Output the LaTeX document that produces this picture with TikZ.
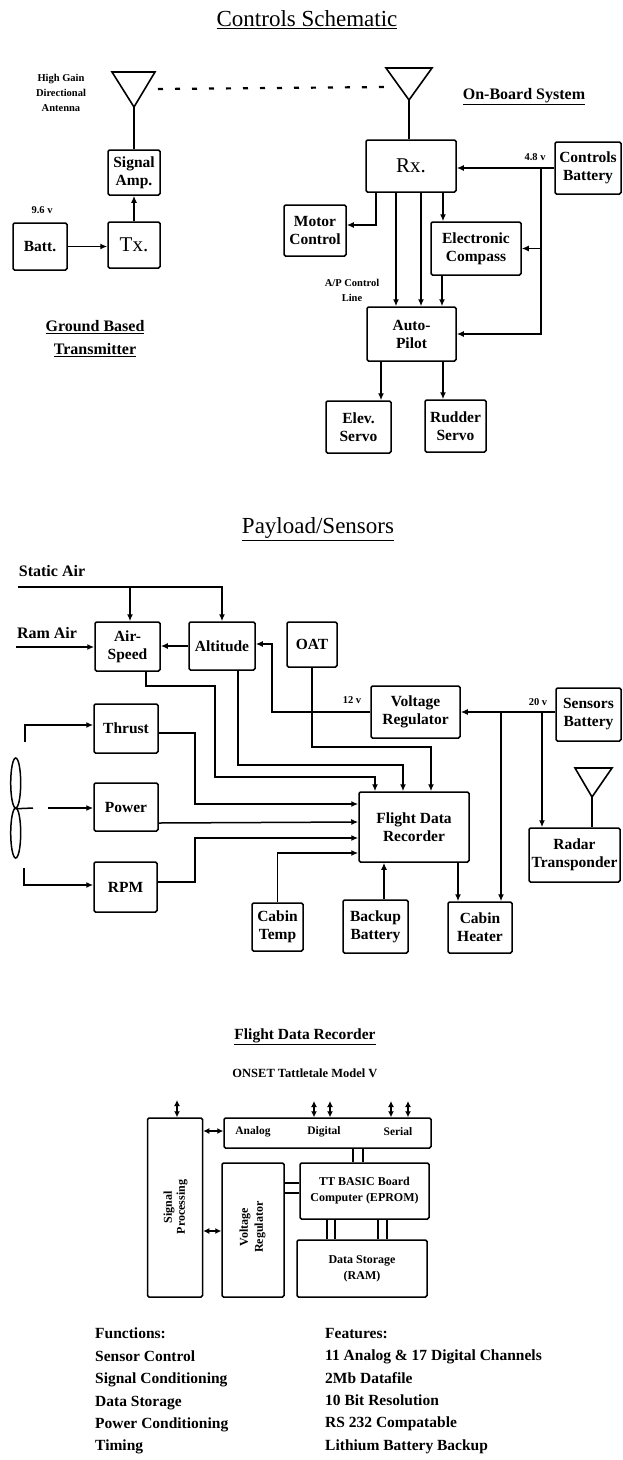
\documentclass[tikz,border=0pt]{standalone}
\usepackage{fontspec}
\setmainfont{Liberation Serif}
\usetikzlibrary{arrows.meta, positioning, shapes.geometric}
\tikzset{
  blockbox/.style={draw, line width=1.5pt, rounded corners=1.5pt, align=center, inner sep=0pt,
                   font=\fontsize{15.5}{18}\selectfont\bfseries},
  smallbox/.style={blockbox, font=\fontsize{12}{16}\selectfont\bfseries},
  wire/.style={line width=1.5pt},
  feed/.style={wire, -{Latex[length=7pt,width=6pt]}},
  both/.style={wire, {Latex[length=6pt,width=6pt]}-{Latex[length=6pt,width=6pt]}},
  antenna/.style={line width=1.6pt, line join=miter},
  heading/.style={font=\fontsize{23}{26}\selectfont},
  subhead/.style={font=\fontsize{16}{23}\selectfont\bfseries, align=center},
  tinylabel/.style={font=\fontsize{10.5}{15}\selectfont\bfseries, align=center},
  listtext/.style={font=\fontsize{15.5}{22.4}\selectfont\bfseries, align=left, anchor=north west, inner sep=0pt}
}

\begin{document}
\begin{tikzpicture}[x=1pt, y=-1pt]
  \useasboundingbox (0,0) rectangle (622,1460);

  % controls schematic
  \node[heading] (ctrltitle) at (307,19.5) {\underline{Controls Schematic}};
  \node[tinylabel] (gainlabel) at (61,93) {High Gain\\Directional\\Antenna};
  \node[tinylabel] (voltsix) at (42,210) {9.6 v};
  \node[subhead] (groundlabel) at (95,339) {\underline{Ground Based}\\\underline{Transmitter}};
  \node[subhead] (boardlabel) at (524,97) {\underline{On-Board System}};
  \node[tinylabel] (voltfour) at (535,157) {4.8 v};
  \node[tinylabel] (aplabel) at (352,290) {A/P Control\\Line};

  \node[blockbox, minimum width=52pt, minimum height=45pt] (sigamp) at (134,172.5) {Signal\\Amp.};
  \node[blockbox, minimum width=52pt, minimum height=46pt, font=\fontsize{21}{22}\selectfont] (txbox) at (134,245) {Tx.};
  \node[blockbox, minimum width=54pt, minimum height=47pt] (battbox) at (40,246.5) {Batt.};
  \node[blockbox, minimum width=90pt, minimum height=52pt, font=\fontsize{21}{22}\selectfont] (rxbox) at (411,166) {Rx.};
  \node[blockbox, minimum width=66pt, minimum height=52pt] (ctrlbatt) at (588,168) {Controls\\Battery};
  \node[blockbox, minimum width=62pt, minimum height=51pt] (motor) at (315,230.5) {Motor\\Control};
  \node[blockbox, minimum width=90pt, minimum height=53pt] (compass) at (476,248.5) {Electronic\\Compass};
  \node[blockbox, minimum width=89pt, minimum height=54pt] (autopilot) at (411.5,334) {Auto-\\Pilot};
  \node[blockbox, minimum width=65pt, minimum height=52pt] (elev) at (358.5,427) {Elev.\\Servo};
  \node[blockbox, minimum width=61pt, minimum height=52pt] (rudder) at (455.5,426) {Rudder\\Servo};

  \draw[antenna] (112,72) -- (155,72) -- (134,107) -- cycle;
  \draw[antenna] (386,68) -- (432,68) -- (409,100) -- cycle;
  \coordinate (gndtip) at (134,107);
  \coordinate (boardtip) at (409,100);
  \coordinate (gndlink) at (158,89);
  \coordinate (boardlink) at (386,87);
  \coordinate (ctrltap) at (541,168);

  \draw[line width=2.2pt, dash pattern=on 5pt off 12pt] (gndlink) -- (boardlink);
  \draw[wire] (gndtip) -- (sigamp.north);
  \draw[wire] (boardtip) -- (rxbox.north -| boardtip);
  \draw[feed] (txbox.north) -- (sigamp.south);
  \draw[feed] (battbox.east) -- (txbox.west |- battbox.east);
  \draw[feed] (ctrlbatt.west) -- (rxbox.east |- ctrlbatt.west);
  \draw[feed] (ctrltap) |- (compass.east);
  \draw[feed] (ctrltap) |- (autopilot.east);
  \draw[feed] ([xshift=-35pt]rxbox.south) |- ([yshift=5.5pt]motor.east);
  \draw[feed] ([xshift=-15pt]rxbox.south) -- ([xshift=-15pt]rxbox.south |- autopilot.north);
  \draw[feed] ([xshift=10pt]rxbox.south) -- ([xshift=10pt]rxbox.south |- autopilot.north);
  \draw[feed] ([xshift=32pt]rxbox.south) -- ([xshift=32pt]rxbox.south |- compass.north);
  \draw[feed] ([xshift=-34pt]compass.south) -- ([xshift=-34pt]compass.south |- autopilot.north);
  \draw[feed] ([xshift=-30.5pt]autopilot.south) -- ([xshift=-30.5pt]autopilot.south |- elev.north);
  \draw[feed] ([xshift=31.5pt]autopilot.south) -- ([xshift=31.5pt]autopilot.south |- rudder.north);

  % payload and sensors
  \node[heading] (paytitle) at (318,529) {\underline{Payload/Sensors}};
  \node[subhead] (staticlabel) at (52,571) {Static Air};
  \node[subhead] (ramlabel) at (47,633) {Ram Air};
  \node[tinylabel] (volttwelve) at (352,700) {12 v};
  \node[tinylabel] (volttwenty) at (538,702) {20 v};

  \node[blockbox, minimum width=65pt, minimum height=49pt] (airspeed) at (127.5,646.5) {Air-\\Speed};
  \node[blockbox, minimum width=66pt, minimum height=48pt] (altitude) at (222,646) {Altitude};
  \node[blockbox, minimum width=50pt, minimum height=45pt] (oat) at (312,644.5) {OAT};
  \node[blockbox, minimum width=89pt, minimum height=52pt] (vreg) at (415.5,712) {Voltage\\Regulator};
  \node[blockbox, minimum width=65pt, minimum height=53pt] (sensbatt) at (588.5,714.5) {Sensors\\Battery};
  \node[blockbox, minimum width=91pt, minimum height=54pt] (radar) at (574.5,855) {Radar\\Transponder};
  \node[blockbox, minimum width=64pt, minimum height=49pt] (thrust) at (126,728.5) {Thrust};
  \node[blockbox, minimum width=64pt, minimum height=48pt] (power) at (126,807) {Power};
  \node[blockbox, minimum width=63pt, minimum height=50pt] (rpm) at (125.5,887) {RPM};
  \node[blockbox, minimum width=110pt, minimum height=70pt] (fdr) at (414,827) {Flight Data\\Recorder};
  \node[blockbox, minimum width=51pt, minimum height=48pt] (cabtemp) at (277.5,927) {Cabin\\Temp};
  \node[blockbox, minimum width=65pt, minimum height=53pt] (backup) at (375.5,926.5) {Backup\\Battery};
  \node[blockbox, minimum width=64pt, minimum height=51pt] (heater) at (480,927.5) {Cabin\\Heater};
  \node[draw, ellipse, line width=1.5pt, inner sep=0pt, minimum width=10pt, minimum height=50pt] (bladeup) at (15.7,783) {};
  \node[draw, ellipse, line width=1.5pt, inner sep=0pt, minimum width=10pt, minimum height=50pt] (bladedown) at (15.7,833) {};

  \draw[antenna] (575,768) -- (612,768) -- (592,797) -- cycle;
  \coordinate (radartip) at (592,797);
  \coordinate (staticin) at (18,587);
  \coordinate (ramin) at (16,647);
  \coordinate (hubend) at (33,808);
  \coordinate (hubfeed) at (48,808);
  \coordinate (thrustin) at (25,742);
  \coordinate (rpmin) at (24,868);
  \coordinate (senstapa) at (542,712);
  \coordinate (senstapb) at (501,712);

  \draw[wire] (radartip) -- (radar.north -| radartip);
  \draw[feed] (staticin) -- (222,587) -- (altitude.north);
  \draw[feed] (130,587) -- (airspeed.north -| 130,587);
  \draw[feed] (ramin) -- (airspeed.west |- ramin);
  \draw[feed] (altitude.west) -- (airspeed.east |- altitude.west);
  \draw[feed] (vreg.west) -- (272,712) -- (272,644) -- (altitude.east |- 272,644);
  \draw[feed] (sensbatt.west |- senstapa) -- (vreg.east);
  \draw[feed] (senstapa) -- (radar.north -| senstapa);
  \draw[feed] (senstapb) -- (heater.north -| senstapb);
  \draw[feed] ([xshift=18.5pt]airspeed.south) -- (146,686) -- (215,686) -- (215,777) -- (375,777) -- (fdr.north -| 375,777);
  \draw[feed] ([xshift=16pt]altitude.south) -- (238,765) -- (403,765) -- (fdr.north -| 403,765);
  \draw[feed] (oat.south) -- (312,747) -- (431,747) -- (fdr.north -| 431,747);
  \draw[feed] ([yshift=-4.5pt]thrust.east) -- (195,733) -- (195,804) -- ([yshift=23pt]fdr.west);
  \draw[feed] ([yshift=-16pt]power.east) -- ([yshift=5pt]fdr.west);
  \draw[feed] ([yshift=5pt]rpm.east) -- (195,882) -- (195,838) -- ([yshift=-11pt]fdr.west);
  \draw[feed] (cabtemp.north) -- (277.5,853) -- ([yshift=-26pt]fdr.west);
  \draw[feed] ([xshift=8.5pt]backup.north) -- ([xshift=8.5pt]backup.north |- fdr.south);
  \draw[feed] ([xshift=44pt]fdr.south) -- ([xshift=44pt]fdr.south |- heater.north);
  \draw[wire] (bladeup.south) -- (hubend);
  \draw[feed] (hubfeed) -- (hubfeed -| power.west);
  \draw[feed] (thrustin) |- ([yshift=3.5pt]thrust.west);
  \draw[feed] (rpmin) |- ([yshift=2pt]rpm.west);

  % recorder detail
  \node[subhead, font=\fontsize{15.5}{18}\selectfont\bfseries] (fdrtitle) at (305,1037) {\underline{Flight Data Recorder}};
  \node[tinylabel, font=\fontsize{12.5}{15}\selectfont\bfseries] (onset) at (305,1073) {ONSET Tattletale Model V};

  \node[smallbox, minimum width=55pt, minimum height=179pt] (sigproc) at (175,1207.5) {};
  \node[smallbox, minimum width=207pt, minimum height=30pt] (iobar) at (327.5,1133) {};
  \node[smallbox, minimum width=62pt, minimum height=134pt] (voltreg) at (253,1230) {};
  \node[smallbox, minimum width=129pt, minimum height=56pt] (basic) at (364.5,1191) {TT BASIC Board\\Computer (EPROM)};
  \node[smallbox, minimum width=130pt, minimum height=57pt] (storage) at (362,1268.5) {Data Storage\\(RAM)};
  \node[tinylabel, font=\fontsize{12}{13}\selectfont\bfseries, rotate=90] (sigtext) at (175.5,1207) {Signal\\Processing};
  \node[tinylabel, font=\fontsize{12}{15}\selectfont\bfseries, rotate=90] (volttext) at (252.5,1227) {Voltage\\Regulator};
  \node[tinylabel, font=\fontsize{11.5}{13}\selectfont\bfseries] (analog) at (253,1132) {Analog};
  \node[tinylabel, font=\fontsize{11.5}{13}\selectfont\bfseries] (digital) at (324,1132) {Digital};
  \node[tinylabel, font=\fontsize{11.5}{13}\selectfont\bfseries] (serial) at (398,1132) {Serial};

  \coordinate (sigport) at (177,1100);
  \coordinate (digporta) at (314,1101);
  \coordinate (digportb) at (330,1101);
  \coordinate (serporta) at (391,1101);
  \coordinate (serportb) at (408,1101);

  \foreach \port/\from in {sigport/sigproc, digporta/iobar, digportb/iobar, serporta/iobar, serportb/iobar}
    \draw[both] (\from.north -| \port) -- (\port);
  \draw[both] (iobar.west |- 0,1131) -- (sigproc.east |- 0,1131);
  \draw[both] (voltreg.west |- 0,1231) -- (sigproc.east |- 0,1231);
  \draw[wire] (353,1148) -- (basic.north -| 353,1148);
  \draw[wire] (363,1148) -- (basic.north -| 363,1148);
  \draw[wire] (voltreg.east |- 0,1183) -- (basic.west |- 0,1183);
  \draw[wire] (voltreg.east |- 0,1193) -- (basic.west |- 0,1193);
  \foreach \busx in {327,335,378,387}
    \draw[wire] (basic.south -| \busx,0) -- (storage.north -| \busx,0);

  \node[listtext] (functions) at (95,1328) {Functions:\\Sensor Control\\Signal Conditioning\\Data Storage\\Power Conditioning\\Timing};
  \node[listtext] (features) at (325,1328) {Features:\\11 Analog \& 17 Digital Channels\\2Mb Datafile\\10 Bit Resolution\\RS 232 Compatable\\Lithium Battery Backup};
\end{tikzpicture}
\end{document}
